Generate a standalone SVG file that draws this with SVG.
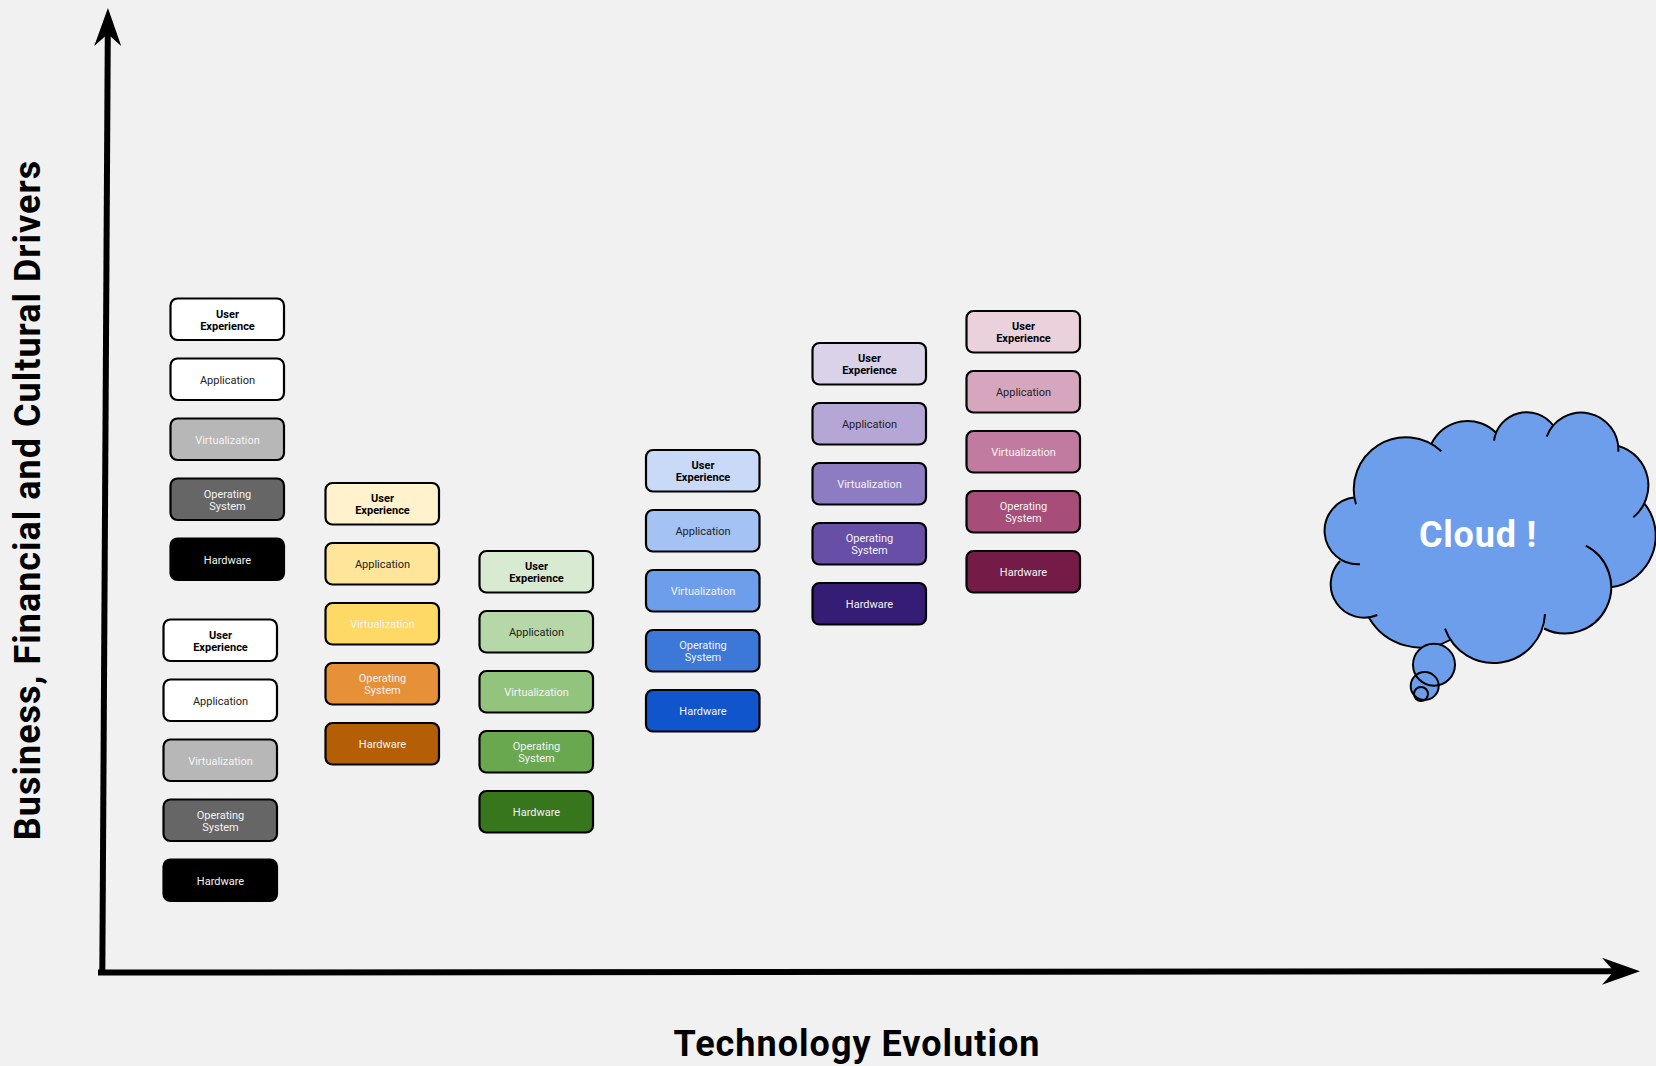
<svg xmlns="http://www.w3.org/2000/svg" width="1656" height="1066" viewBox="0 0 1656 1066">
<style>
text{font-family:Roboto,"Liberation Sans",sans-serif;text-anchor:middle}
.b{stroke:#000;stroke-width:2.2}
.t{font-size:11px}
.ux{font-weight:700;fill:#000}
.d{fill:#222}
.l{fill:#f3f3f3}
.title{font-size:36px;font-weight:700;fill:#000;letter-spacing:1px}
.axis{fill:none;stroke:#000;stroke-width:6;marker-end:url(#ah)}
.lobe{fill:none;stroke:#000;stroke-width:2}
.bub{fill:none;stroke:#000;stroke-width:2}
.bf{fill:#6d9eeb}
</style>
<defs>
<marker id="ah" markerUnits="userSpaceOnUse" markerWidth="44" markerHeight="32" refX="13" refY="16" orient="auto" viewBox="0 0 44 32"><path d="M0,2.500L38,16L0,29.500L12,16Z" fill="#000"/></marker>
</defs>
<rect width="1656" height="1066" fill="#f1f1f1"/>
<g id="connectors">
<path id="y-axis" class="axis" d="M102.300,975L107.800,33"/>
<path id="x-axis" class="axis" d="M98,972.500L1615,971.300"/>
</g>
<text id="y-title" class="title" transform="translate(40,500) rotate(-90)">Business, Financial and Cultural Drivers</text>
<text id="x-title" class="title" x="857" y="1056">Technology Evolution</text>

<g id="stack-1" transform="translate(170.500,298.500)">
<g id="s1-ux"><rect class="b" width="113.500" height="41.500" rx="7" fill="#fff"/><text class="t ux" x="57" y="19">User</text><text class="t ux" x="57" y="31">Experience</text></g>
<g id="s1-app"><rect class="b" y="60" width="113.500" height="41.500" rx="7" fill="#fff"/><text class="t d" x="57" y="85">Application</text></g>
<g id="s1-virt"><rect class="b" y="120" width="113.500" height="41.500" rx="7" fill="#b7b7b7"/><text class="t l" x="57" y="145">Virtualization</text></g>
<g id="s1-os"><rect class="b" y="180" width="113.500" height="41.500" rx="7" fill="#666"/><text class="t l" x="57" y="199">Operating</text><text class="t l" x="57" y="211">System</text></g>
<g id="s1-hw"><rect class="b" y="240" width="113.500" height="41.500" rx="7" fill="#000"/><text class="t l" x="57" y="265">Hardware</text></g>
</g>
<g id="stack-2" transform="translate(163.500,619.500)">
<g id="s2-ux"><rect class="b" width="113.500" height="41.500" rx="7" fill="#fff"/><text class="t ux" x="57" y="19">User</text><text class="t ux" x="57" y="31">Experience</text></g>
<g id="s2-app"><rect class="b" y="60" width="113.500" height="41.500" rx="7" fill="#fff"/><text class="t d" x="57" y="85">Application</text></g>
<g id="s2-virt"><rect class="b" y="120" width="113.500" height="41.500" rx="7" fill="#b7b7b7"/><text class="t l" x="57" y="145">Virtualization</text></g>
<g id="s2-os"><rect class="b" y="180" width="113.500" height="41.500" rx="7" fill="#666"/><text class="t l" x="57" y="199">Operating</text><text class="t l" x="57" y="211">System</text></g>
<g id="s2-hw"><rect class="b" y="240" width="113.500" height="41.500" rx="7" fill="#000"/><text class="t l" x="57" y="265">Hardware</text></g>
</g>
<g id="stack-3" transform="translate(325.500,483)">
<g id="s3-ux"><rect class="b" width="113.500" height="41.500" rx="7" fill="#fff2cc"/><text class="t ux" x="57" y="19">User</text><text class="t ux" x="57" y="31">Experience</text></g>
<g id="s3-app"><rect class="b" y="60" width="113.500" height="41.500" rx="7" fill="#ffe599"/><text class="t d" x="57" y="85">Application</text></g>
<g id="s3-virt"><rect class="b" y="120" width="113.500" height="41.500" rx="7" fill="#ffd966"/><text class="t l" x="57" y="145">Virtualization</text></g>
<g id="s3-os"><rect class="b" y="180" width="113.500" height="41.500" rx="7" fill="#e69138"/><text class="t l" x="57" y="199">Operating</text><text class="t l" x="57" y="211">System</text></g>
<g id="s3-hw"><rect class="b" y="240" width="113.500" height="41.500" rx="7" fill="#b45f06"/><text class="t l" x="57" y="265">Hardware</text></g>
</g>
<g id="stack-4" transform="translate(479.500,551)">
<g id="s4-ux"><rect class="b" width="113.500" height="41.500" rx="7" fill="#d9ead3"/><text class="t ux" x="57" y="19">User</text><text class="t ux" x="57" y="31">Experience</text></g>
<g id="s4-app"><rect class="b" y="60" width="113.500" height="41.500" rx="7" fill="#b6d7a8"/><text class="t d" x="57" y="85">Application</text></g>
<g id="s4-virt"><rect class="b" y="120" width="113.500" height="41.500" rx="7" fill="#93c47d"/><text class="t l" x="57" y="145">Virtualization</text></g>
<g id="s4-os"><rect class="b" y="180" width="113.500" height="41.500" rx="7" fill="#6aa84f"/><text class="t l" x="57" y="199">Operating</text><text class="t l" x="57" y="211">System</text></g>
<g id="s4-hw"><rect class="b" y="240" width="113.500" height="41.500" rx="7" fill="#38761d"/><text class="t l" x="57" y="265">Hardware</text></g>
</g>
<g id="stack-5" transform="translate(646,450)">
<g id="s5-ux"><rect class="b" width="113.500" height="41.500" rx="7" fill="#c9daf8"/><text class="t ux" x="57" y="19">User</text><text class="t ux" x="57" y="31">Experience</text></g>
<g id="s5-app"><rect class="b" y="60" width="113.500" height="41.500" rx="7" fill="#a4c2f4"/><text class="t d" x="57" y="85">Application</text></g>
<g id="s5-virt"><rect class="b" y="120" width="113.500" height="41.500" rx="7" fill="#6d9eeb"/><text class="t l" x="57" y="145">Virtualization</text></g>
<g id="s5-os"><rect class="b" y="180" width="113.500" height="41.500" rx="7" fill="#3c78d8"/><text class="t l" x="57" y="199">Operating</text><text class="t l" x="57" y="211">System</text></g>
<g id="s5-hw"><rect class="b" y="240" width="113.500" height="41.500" rx="7" fill="#1155cc"/><text class="t l" x="57" y="265">Hardware</text></g>
</g>
<g id="stack-6" transform="translate(812.500,343)">
<g id="s6-ux"><rect class="b" width="113.500" height="41.500" rx="7" fill="#d9d2e9"/><text class="t ux" x="57" y="19">User</text><text class="t ux" x="57" y="31">Experience</text></g>
<g id="s6-app"><rect class="b" y="60" width="113.500" height="41.500" rx="7" fill="#b4a7d6"/><text class="t d" x="57" y="85">Application</text></g>
<g id="s6-virt"><rect class="b" y="120" width="113.500" height="41.500" rx="7" fill="#8e7cc3"/><text class="t l" x="57" y="145">Virtualization</text></g>
<g id="s6-os"><rect class="b" y="180" width="113.500" height="41.500" rx="7" fill="#674ea7"/><text class="t l" x="57" y="199">Operating</text><text class="t l" x="57" y="211">System</text></g>
<g id="s6-hw"><rect class="b" y="240" width="113.500" height="41.500" rx="7" fill="#351c75"/><text class="t l" x="57" y="265">Hardware</text></g>
</g>
<g id="stack-7" transform="translate(966.500,311)">
<g id="s7-ux"><rect class="b" width="113.500" height="41.500" rx="7" fill="#ead1dc"/><text class="t ux" x="57" y="19">User</text><text class="t ux" x="57" y="31">Experience</text></g>
<g id="s7-app"><rect class="b" y="60" width="113.500" height="41.500" rx="7" fill="#d5a6bd"/><text class="t d" x="57" y="85">Application</text></g>
<g id="s7-virt"><rect class="b" y="120" width="113.500" height="41.500" rx="7" fill="#c27ba0"/><text class="t l" x="57" y="145">Virtualization</text></g>
<g id="s7-os"><rect class="b" y="180" width="113.500" height="41.500" rx="7" fill="#a64d79"/><text class="t l" x="57" y="199">Operating</text><text class="t l" x="57" y="211">System</text></g>
<g id="s7-hw"><rect class="b" y="240" width="113.500" height="41.500" rx="7" fill="#741b47"/><text class="t l" x="57" y="265">Hardware</text></g>
</g>

<g id="cloud">
<path fill="#6d9eeb" d="M1356,504.300A52,52 0 0 1 1441.300,451.300L1431.700,443.300A40,40 0 0 1 1496,432.700L1494,440.700A33,33 0 0 1 1553.300,425.700L1546.700,436.700A37,37 0 0 1 1618.300,451.700L1618.300,446A41,41 0 0 1 1633.300,517.300L1644.300,503.300A52,52 0 0 1 1611,587.300L1585.700,545.700A46.300,46.300 0 0 1 1544,628.500L1545,614A51.500,51.500 0 0 1 1445,628.700L1450,640A60,60 0 0 1 1369,617.700L1377.300,615A33.500,33.500 0 0 1 1340,561L1360,564.300A33.600,33.600 0 0 1 1355,497.300Z"/>
<path class="lobe" d="M1356,504.300A52,52 0 0 1 1441.300,451.300M1431.700,443.300A40,40 0 0 1 1496,432.700M1494,440.700A33,33 0 0 1 1553.300,425.700M1546.700,436.700A37,37 0 0 1 1618.300,451.700M1618.300,446A41,41 0 0 1 1633.300,517.300M1644.300,503.300A52,52 0 0 1 1611,587.300M1585.700,545.700A46.300,46.300 0 0 1 1544,628.500M1545,614A51.500,51.500 0 0 1 1445,628.700M1450,640A60,60 0 0 1 1369,617.700M1377.300,615A33.500,33.500 0 0 1 1340,561M1360,564.300A33.600,33.600 0 0 1 1355,497.300"/>
<circle class="bf" cx="1434" cy="664.700" r="21"/>
<circle class="bf" cx="1424.700" cy="686" r="14"/>
<circle class="bf" cx="1421" cy="694" r="7"/>
<circle class="bub" cx="1434" cy="664.700" r="21"/>
<circle class="bub" cx="1424.700" cy="686" r="14"/>
<circle class="bub" cx="1421" cy="694" r="7"/>
<text x="1478" y="547" font-size="36" font-weight="700" fill="#fff" letter-spacing=".8">Cloud !</text>
</g>
</svg>
